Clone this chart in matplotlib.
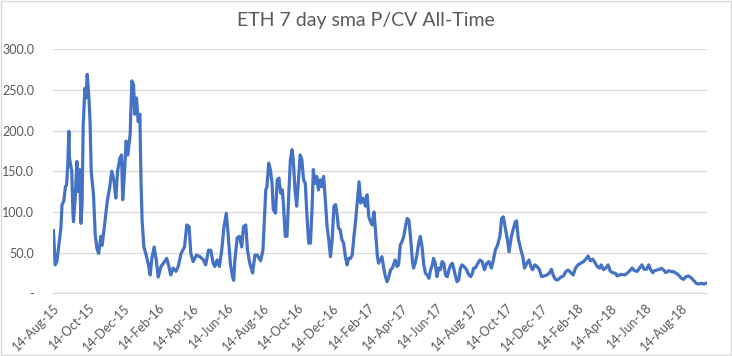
import pandas as pd
import numpy as np
import matplotlib
matplotlib.use('Agg')
import matplotlib.pyplot as plt
import matplotlib.dates as mdates
from matplotlib.ticker import FuncFormatter

plt.rcParams['font.family'] = ['Lato', 'DejaVu Sans']

# data: days since 14-Aug-2015 and the 7 day sma P/CV value
start = pd.Timestamp('2015-08-14')
days = [0, 3, 6, 10, 13, 15, 18, 21, 23, 25, 27, 28, 32, 34, 35, 38, 41, 43, 46, 48,
        50, 52, 55, 57, 59, 62, 64, 66, 70, 73, 76, 79, 83, 85, 90, 94, 98, 102, 106, 109,
        112, 116, 119, 121, 124, 127, 130, 134, 137, 140, 142, 145, 148, 151, 153, 155, 158, 162, 166, 169,
        172, 176, 180, 183, 188, 192, 198, 201, 205, 209, 214, 218, 223, 229, 233, 237, 240, 244, 250, 256,
        262, 266, 271, 275, 279, 282, 286, 290, 294, 298, 302, 305, 309, 313, 315, 317, 321, 325, 329, 332,
        336, 339, 343, 348, 352, 356, 362, 366, 368, 371, 373, 376, 379, 382, 384, 388, 391, 394, 397, 400,
        402, 405, 408, 411, 414, 417, 419, 422, 425, 428, 431, 434, 437, 440, 443, 446, 449, 452, 454, 457,
        460, 463, 466, 469, 472, 475, 478, 481, 484, 487, 490, 493, 496, 498, 501, 504, 507, 510, 513, 516,
        519, 522, 525, 528, 531, 534, 537, 541, 545, 548, 551, 554, 557, 560, 563, 566, 568, 571, 574, 577,
        580, 583, 586, 589, 592, 595, 597, 600, 603, 606, 609, 612, 615, 618, 621, 624, 627, 629, 632, 635,
        638, 641, 644, 647, 650, 653, 656, 659, 662, 664, 667, 670, 673, 676, 679, 682, 685, 688, 691, 694,
        697, 699, 702, 705, 708, 711, 714, 717, 720, 723, 726, 729, 732, 734, 737, 740, 745, 749, 753, 757,
        761, 765, 768, 772, 776, 780, 783, 786, 789, 793, 796, 800, 803, 807, 809, 812, 816, 820, 823, 827,
        831, 834, 837, 841, 845, 849, 853, 857, 862, 866, 870, 873, 877, 881, 886, 891, 895, 899, 904, 908,
        912, 916, 921, 926, 930, 934, 938, 942, 945, 950, 954, 957, 961, 965, 969, 973, 977, 982, 985, 989,
        993, 998, 1002, 1006, 1011, 1015, 1020, 1024, 1028, 1032, 1036, 1040, 1043, 1047, 1050, 1055, 1059, 1062, 1066, 1070,
        1075, 1080, 1084, 1088, 1092, 1097, 1101, 1105, 1110, 1115, 1119, 1123, 1127, 1132, 1136, 1140]
pcv = [77, 35, 39, 63, 80, 109, 113, 131, 133, 158, 199, 166, 150, 100, 88, 117, 162, 125, 152, 86,
       109, 207, 252, 240, 269, 240, 211, 150, 121, 72, 55, 49, 70, 59, 88, 113, 129, 150, 137, 117,
       150, 166, 170, 115, 146, 187, 170, 195, 261, 256, 220, 240, 211, 220, 137, 88, 57, 47, 35, 22.5,
       43, 57, 39, 20, 33, 37, 43, 35, 22.5, 31, 27, 33, 49, 57, 84, 82, 49, 39, 47, 45,
       41, 35, 53, 53, 37, 33, 41, 33, 53, 82, 98.5, 74, 37, 20, 16, 41, 68, 70, 57, 82,
       84, 53, 37, 25, 47, 47, 40, 53, 82, 127, 131, 160, 152, 135, 103, 98.5, 139.5, 141.6, 123, 127,
       107, 70, 70, 119, 164, 176.5, 164, 127, 107, 139.5, 170, 164, 139.5, 135, 94, 61.6, 61.6, 107, 152, 135,
       143.6, 127, 139.5, 131, 143.6, 115, 82, 66, 45, 66, 107, 109, 94, 80, 78, 66, 61.6, 45, 35, 43,
       43, 47, 70, 90, 113, 137, 111, 117, 107, 121, 94, 88, 84, 100, 74, 45, 37, 41, 45, 31,
       20.5, 14.3, 20.5, 29, 31, 37, 41, 33, 35, 59.5, 63.5, 70, 82, 92, 90, 68, 41, 31, 37, 47,
       61.6, 70, 57, 35, 24.6, 22.5, 18.5, 29, 35, 43, 37, 20.5, 31, 29, 39, 37, 22.5, 20.5, 29, 35,
       37, 31, 22.5, 14.3, 16.4, 31, 35, 33, 31, 27, 22.5, 20.5, 24.6, 31, 31, 35, 41, 39, 29, 37,
       39, 31, 39, 53, 59.5, 70, 92, 94, 82, 66, 51, 70, 78, 88, 89, 68, 55, 45, 31, 37,
       41, 33, 29, 35, 33, 29, 20.5, 21.3, 22.5, 24.6, 29.5, 22.5, 17.2, 16.4, 19.7, 21.3, 26.6, 28.7, 25.4, 22.5,
       30.8, 34.8, 36.9, 38.9, 41.9, 45.9, 40, 42, 39, 33, 31, 35, 29, 31, 35, 27, 25.4, 24.6, 21.3, 22.5,
       23.4, 22.5, 24.6, 27, 31, 27.8, 27, 31, 35, 29.5, 29.5, 35, 29.5, 25.4, 27.8, 28.7, 29.5, 30.8, 28.7, 25.4,
       27.8, 26.6, 26.6, 24.6, 22.5, 18.5, 17.2, 20.5, 21.3, 18.5, 15.5, 12.3, 11.5, 12.3, 11.5, 12.3]

dates = start + pd.to_timedelta(days, unit='D')
tick_dates = pd.date_range('2015-08-14', '2018-08-14', freq=pd.DateOffset(months=2))

fig = plt.figure(figsize=(7.32, 3.56), dpi=100)
ax = fig.add_axes([0.073, 0.176, 0.893, 0.686])

ax.plot(dates, pcv, color='#4472C4', linewidth=2.3, solid_joinstyle='round')

ax.set_ylim(0, 300)
ax.set_xlim(start, start + pd.Timedelta(days=1142))
ax.set_yticks(np.arange(0, 301, 50))
ax.yaxis.set_major_formatter(FuncFormatter(lambda v, p: '-' if v == 0 else f'{v:.1f}'))
ax.set_xticks(tick_dates)
ax.xaxis.set_major_formatter(mdates.DateFormatter('%d-%b-%y'))

ax.grid(axis='y', color='#D9D9D9', linewidth=0.9)
ax.set_axisbelow(True)
for s in ['top', 'right', 'left']:
    ax.spines[s].set_visible(False)
ax.spines['bottom'].set_color('#D9D9D9')
ax.spines['bottom'].set_linewidth(0.9)

ax.tick_params(axis='both', length=0, labelsize=9, labelcolor='#595959')
ax.tick_params(axis='y', pad=14)
ax.tick_params(axis='x', pad=6)
plt.setp(ax.get_xticklabels(), rotation=45, ha='right', rotation_mode='anchor')

fig.suptitle('ETH 7 day sma P/CV All-Time', x=0.5, y=0.965, fontsize=14, color='#595959')

# chart area border
fig.patches.append(plt.Rectangle((0.001, 0.002), 0.997, 0.995, transform=fig.transFigure,
                                 fill=False, edgecolor='#D9D9D9', linewidth=1))

fig.savefig('out.png', dpi=100)
